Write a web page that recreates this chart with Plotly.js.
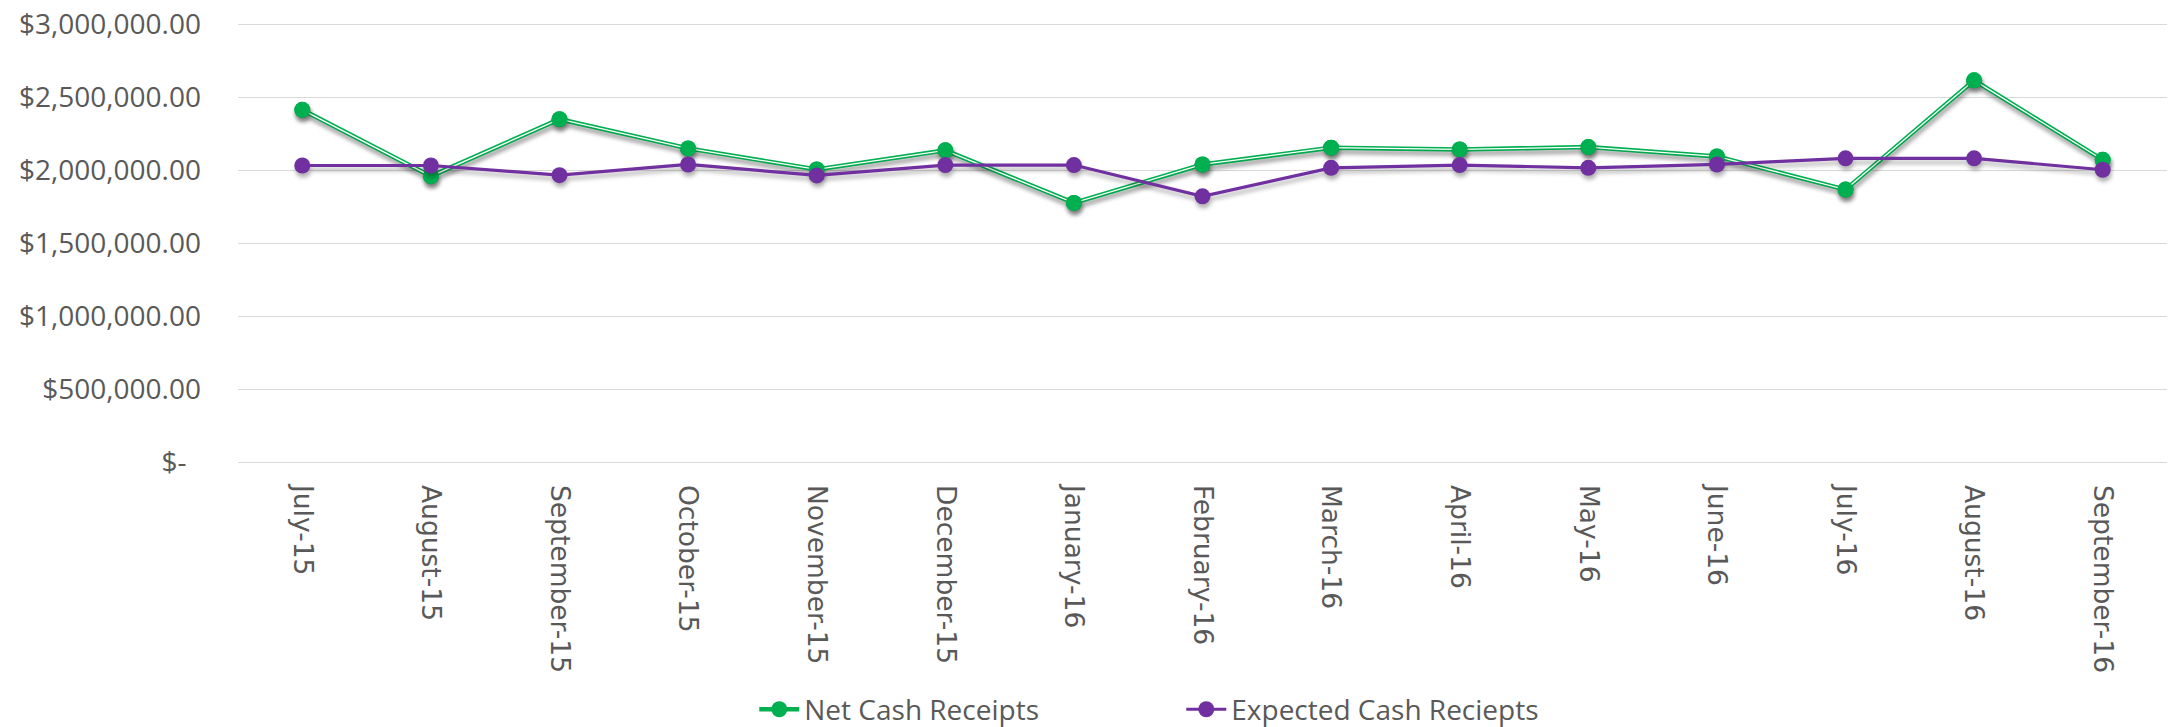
<!DOCTYPE html>
<html>
<head>
<meta charset="utf-8">
<script src="https://cdn.plot.ly/plotly-3.0.1.min.js"></script>
<style>
    html, body { margin: 0; padding: 0; background: #fff; }
    #chart { width: 2170px; height: 727px; }
    /* soft drop shadow like the spreadsheet export */
    #chart .scatterlayer .trace { filter: drop-shadow(1px 4px 2px rgba(0, 0, 0, 0.3)); }
</style>
</head>
<body>
<div id="chart"></div>
<script>
    const months = [
        "July-15", "August-15", "September-15", "October-15", "November-15",
        "December-15", "January-16", "February-16", "March-16", "April-16",
        "May-16", "June-16", "July-16", "August-16", "September-16"
    ];

    const netCashReceipts = [
        2415000, 1961000, 2351000, 2151000, 2007000,
        2138000, 1778000, 2041000, 2156000, 2144000,
        2160000, 2096000, 1869000, 2617000, 2073000
    ];

    const expectedCashReceipts = [
        2034000, 2034000, 1968000, 2041000, 1966000,
        2037000, 2037000, 1823000, 2018000, 2037000,
        2018000, 2041000, 2083000, 2083000, 2005000
    ];

    const yTickVals = [0, 500000, 1000000, 1500000, 2000000, 2500000, 3000000];
    const yTickText = [
        "$-\u00a0\u00a0", "$500,000.00", "$1,000,000.00", "$1,500,000.00",
        "$2,000,000.00", "$2,500,000.00", "$3,000,000.00"
    ];

    const GREEN = "#00B050";
    const PURPLE = "#7030A0";
    const TEXT = "#595959";

    const traces = [
        {
            // net receipts: green double line, the white core is drawn by the next trace
            type: "scatter",
            mode: "lines+markers",
            name: "Net Cash Receipts",
            x: months,
            y: netCashReceipts,
            line: { color: GREEN, width: 4.5 },
            marker: { color: GREEN, size: 16 }
        },
        {
            type: "scatter",
            mode: "lines",
            showlegend: false,
            hoverinfo: "skip",
            x: months,
            y: netCashReceipts,
            line: { color: "#ffffff", width: 1.3 }
        },
        {
            type: "scatter",
            mode: "markers",
            showlegend: false,
            x: months,
            y: netCashReceipts,
            marker: { color: GREEN, size: 16 }
        },
        {
            type: "scatter",
            mode: "lines+markers",
            name: "Expected Cash Reciepts",
            x: months,
            y: expectedCashReceipts,
            line: { color: PURPLE, width: 3.2 },
            marker: { color: PURPLE, size: 16 }
        }
    ];

    const layout = {
        width: 2170,
        height: 727,
        margin: { l: 238, r: 3, t: 20, b: 260 },
        paper_bgcolor: "#ffffff",
        plot_bgcolor: "#ffffff",
        font: { family: "Open Sans, sans-serif", size: 28, color: TEXT },
        xaxis: {
            type: "category",
            range: [-0.5, months.length - 0.5],
            automargin: false,
            showgrid: false,
            showline: false,
            zeroline: false,
            ticks: "",
            tickangle: 90,
            ticklabelstandoff: 17,
            tickfont: { family: "DejaVu Sans, sans-serif", size: 26.5, color: TEXT }
        },
        yaxis: {
            range: [-30000, 3030000],
            automargin: false,
            tickvals: yTickVals,
            ticktext: yTickText,
            showline: false,
            zeroline: false,
            gridcolor: "#d9d9d9",
            gridwidth: 1.6,
            ticks: "",
            ticklabelstandoff: 36,
            tickfont: { family: "Open Sans, sans-serif", size: 28, color: TEXT }
        },
        showlegend: true,
        legend: {
            orientation: "h",
            x: 0.489,
            xanchor: "center",
            yref: "container",
            y: 0.024,
            yanchor: "middle",
            font: { family: "Open Sans, sans-serif", size: 28, color: TEXT },
            itemwidth: 40,
            entrywidth: 372
        }
    };

    Plotly.newPlot("chart", traces, layout, { displayModeBar: false, staticPlot: true });
</script>
</body>
</html>
